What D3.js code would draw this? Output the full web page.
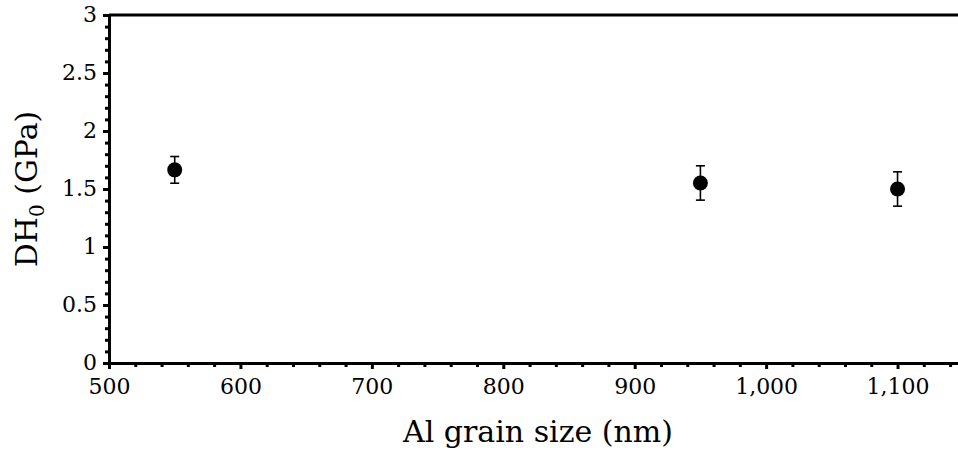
<!DOCTYPE html>
<html>
<head>
<meta charset="utf-8">
<script src="https://cdn.jsdelivr.net/npm/d3@7"></script>
<style>
  body { margin: 0; background: #fff; }
  svg { display: block; font-family: "DejaVu Serif", serif; }
</style>
</head>
<body>
<svg id="chart" width="958" height="452"></svg>
<script>
// data
const grainSize = [550, 950, 1100];
const hardness = [1.665, 1.552, 1.50];
const hardnessErr = [0.115, 0.148, 0.148];

const xTicks = [500, 600, 700, 800, 900, 1000, 1100];
const yTicks = [0, 0.5, 1, 1.5, 2, 2.5, 3];

const margin = { top: 15, right: 0, bottom: 89, left: 109 };
const svg = d3.select("#chart");
const width = +svg.attr("width") - margin.left - margin.right,
  height = +svg.attr("height") - margin.top - margin.bottom;

const x = d3.scaleLinear().domain([500, 1146]).range([0, width]);
const y = d3.scaleLinear().domain([0, 3]).range([height, 0]);

const g = svg.append("g").attr("transform", `translate(${margin.left},${margin.top})`);

// minor ticks
const xMinor = d3.range(500, 1146, 20).filter((v) => v % 100 !== 0);
const yMinor = d3.range(0, 30, 1).map((v) => v / 10).filter((v, i) => i % 5 !== 0);

g.append("g")
  .attr("transform", `translate(0,${height})`)
  .call(d3.axisBottom(x).tickValues(xMinor).tickSize(4).tickFormat(""))
  .call((a) => a.select(".domain").remove())
  .selectAll("line").attr("stroke-width", 3);

g.append("g")
  .call(d3.axisLeft(y).tickValues(yMinor).tickSize(4).tickFormat(""))
  .call((a) => a.select(".domain").remove())
  .selectAll("line").attr("stroke-width", 3);

// major axes
const xAxis = g.append("g")
  .attr("transform", `translate(0,${height})`)
  .call(d3.axisBottom(x).tickValues(xTicks).tickSize(6).tickSizeOuter(0).tickPadding(9)
    .tickFormat(d3.format(",")));
const yAxis = g.append("g")
  .call(d3.axisLeft(y).tickValues(yTicks).tickSize(6).tickSizeOuter(0).tickPadding(6)
    .tickFormat((d) => d));

[xAxis, yAxis].forEach((a) => {
  a.select(".domain").attr("stroke-width", 3);
  a.selectAll(".tick line").attr("stroke-width", 3);
  a.selectAll(".tick text").attr("font-size", 22).attr("fill", "#000")
    .attr("font-family", "DejaVu Serif");
});
yAxis.selectAll(".tick text").attr("dy", "0.3em");

// top frame line
g.append("line")
  .attr("x1", 0).attr("x2", width)
  .attr("y1", 0).attr("y2", 0)
  .attr("stroke", "#000").attr("stroke-width", 3);

// error bars
const pts = grainSize.map((v, i) => ({ x: v, y: hardness[i], e: hardnessErr[i] }));
const eb = g.append("g").attr("stroke", "#000").attr("stroke-width", 1.6);
eb.selectAll(".v").data(pts).join("line")
  .attr("x1", (d) => x(d.x)).attr("x2", (d) => x(d.x))
  .attr("y1", (d) => y(d.y + d.e)).attr("y2", (d) => y(d.y - d.e));
eb.selectAll(".t").data(pts.flatMap((d) => [d.y + d.e, d.y - d.e].map((v) => ({ x: d.x, v }))))
  .join("line")
  .attr("x1", (d) => x(d.x) - 4.5).attr("x2", (d) => x(d.x) + 4.5)
  .attr("y1", (d) => y(d.v)).attr("y2", (d) => y(d.v));

g.append("g").selectAll("circle").data(pts).join("circle")
  .attr("cx", (d) => x(d.x)).attr("cy", (d) => y(d.y))
  .attr("r", 7.5).attr("fill", "#000");

// axis titles
svg.append("text")
  .attr("x", 538).attr("y", 442)
  .attr("text-anchor", "middle").attr("font-size", 30)
  .text("Al grain size (nm)");

const yt = svg.append("text")
  .attr("transform", `translate(37,${margin.top + y(1.5)}) rotate(-90)`)
  .attr("text-anchor", "middle").attr("font-size", 30);
yt.append("tspan").text("DH");
yt.append("tspan").attr("font-size", 20).attr("dy", 7).text("0");
yt.append("tspan").attr("dy", -7).text(" (GPa)");
</script>
</body>
</html>
